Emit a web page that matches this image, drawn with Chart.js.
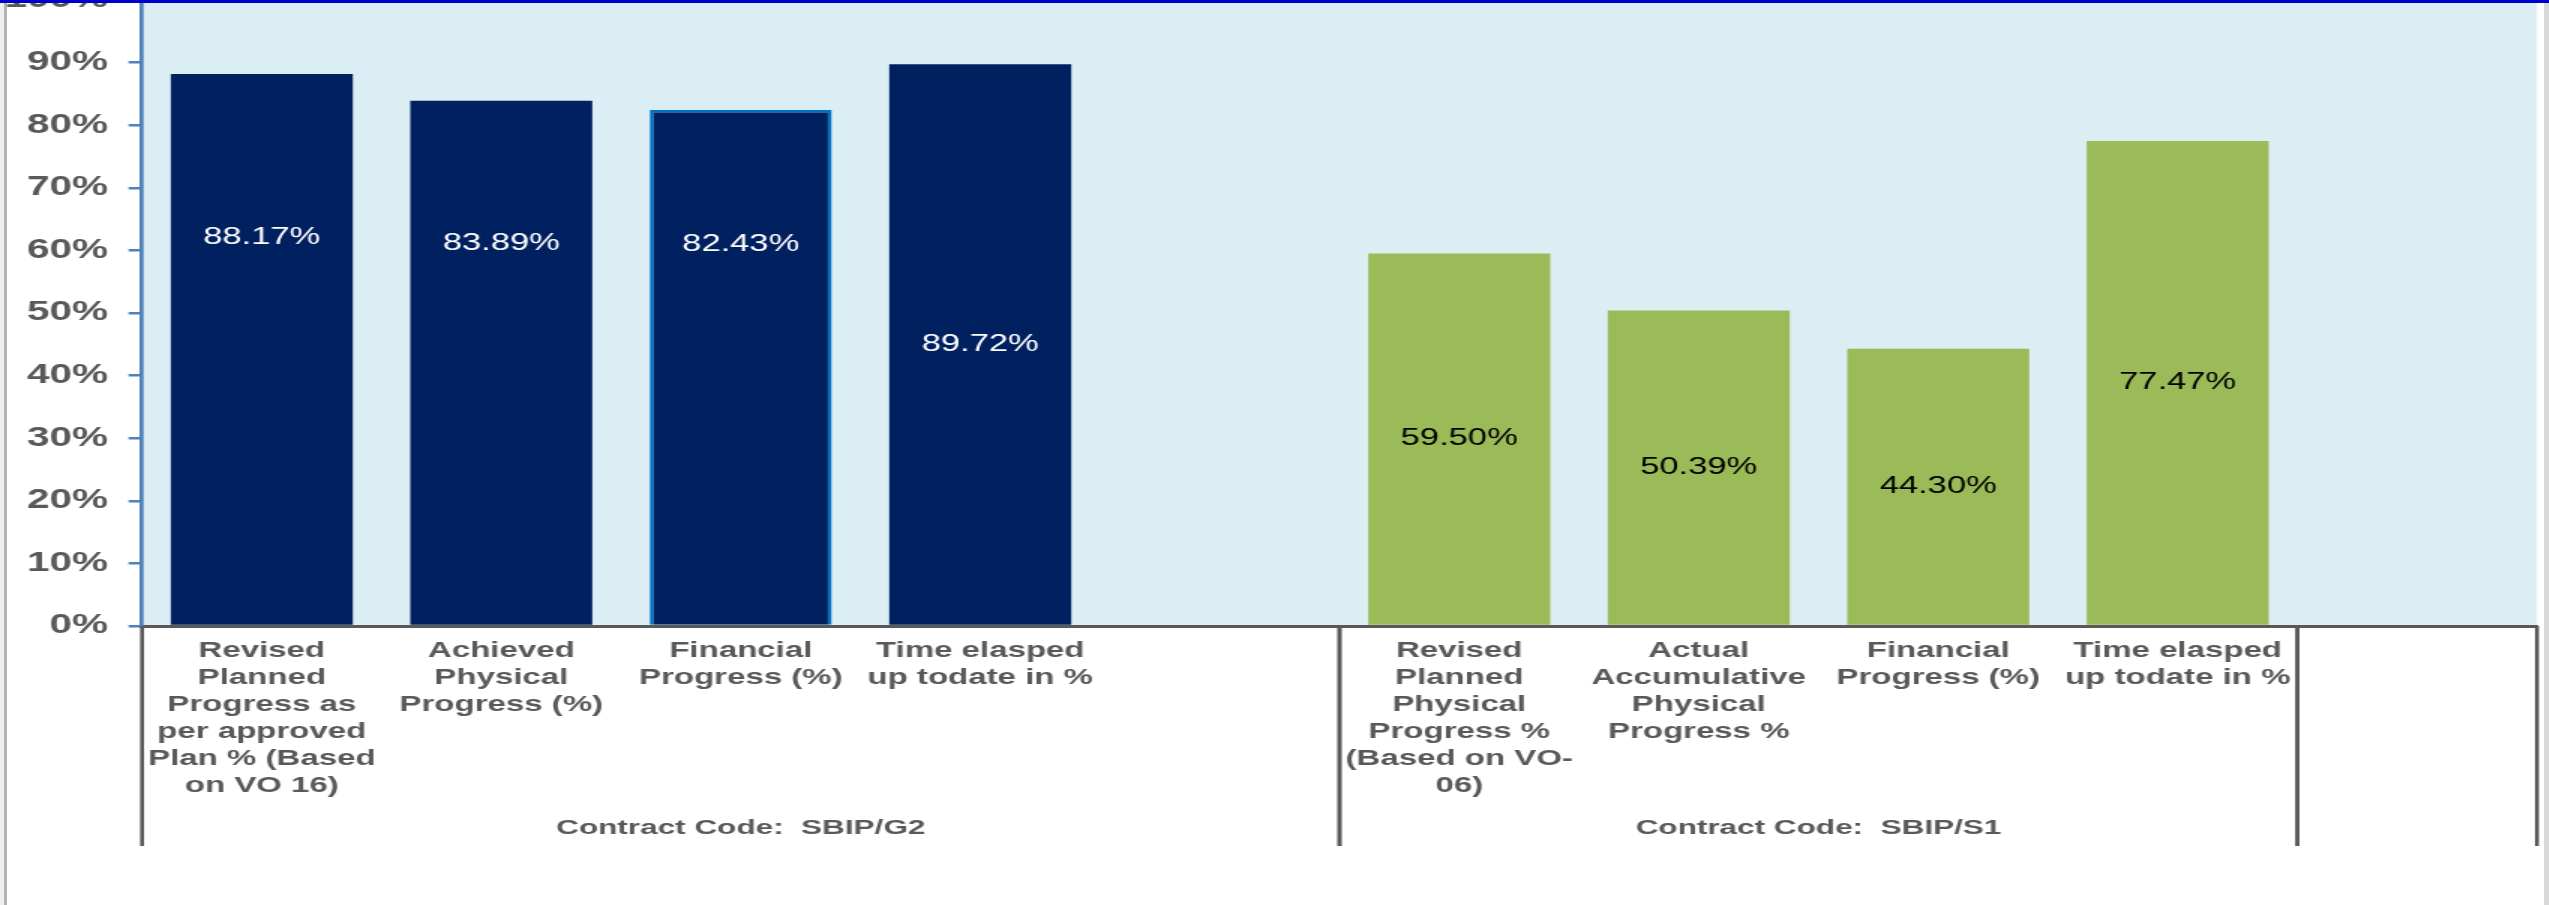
<!DOCTYPE html>
<html>
<head>
<meta charset="utf-8">
<script src="https://cdn.jsdelivr.net/npm/chart.js@4/dist/chart.umd.min.js"></script>
<style>
html, body { margin: 0; padding: 0; background: #fff; }
#frame { position: relative; width: 2549px; height: 905px; overflow: hidden; background: #fff; }
.edge { position: absolute; top: 0; height: 905px; }
#edgeLeft { left: 0; width: 4px; background: #efefef; }
#edgeLeft2 { left: 4px; width: 3px; background: #b4b4b4; }
#edgeRight { left: 2544px; width: 5px; background: #d9d9d9; }
#edgeTop { position: absolute; left: 0; top: 0; width: 2549px; height: 3px; background: #0000cc; z-index: 2; }
/* the source picture is stretched sideways, so the chart is drawn narrow and widened */
#wrap { position: absolute; left: 0; top: -30px; width: 1700px; height: 935px; transform: scaleX(1.5); transform-origin: 0 0; }
</style>
</head>
<body>
<div id="frame">
  <div class="edge" id="edgeLeft"></div>
  <div class="edge" id="edgeLeft2"></div>
  <div class="edge" id="edgeRight"></div>
  <div id="wrap"><canvas id="progress-chart"></canvas></div>
  <div id="edgeTop"></div>
</div>
<script>
// Data
const categories = [
    ['Revised', 'Planned', 'Progress as', 'per approved', 'Plan % (Based', 'on VO 16)'],
    ['Achieved', 'Physical', 'Progress (%)'],
    ['Financial', 'Progress (%)'],
    ['Time elasped', 'up todate in %'],
    '',
    ['Revised', 'Planned', 'Physical', 'Progress %', '(Based on VO-', '06)'],
    ['Actual', 'Accumulative', 'Physical', 'Progress %'],
    ['Financial', 'Progress (%)'],
    ['Time elasped', 'up todate in %'],
    ''
];
const g2Values = [88.17, 83.89, 82.43, 89.72];
const s1Values = [59.50, 50.39, 44.30, 77.47];
const groupLabels = ['Contract Code:  SBIP/G2', 'Contract Code:  SBIP/S1', ''];
const groupSpans = [[0, 4], [5, 8], [9, 9]];
// where the value labels sit, in axis %; null = middle of the bar
const labelAt = [62, 61.1, 60.9, null, null, null, null, null, null, null];

const values = [...g2Values, null, ...s1Values, null];
const barColors = values.map((v, i) => i < 5 ? '#002060' : '#9BBB59');
const borderWidths = values.map((v, i) => i === 2 ? 2.6 : 0);
const FONT = '"Liberation Sans", Arial, sans-serif';

// Plot area fill
const plotBg = {
    id: 'plotBg',
    beforeDraw(chart) {
        const { ctx, chartArea: a } = chart;
        ctx.save();
        ctx.fillStyle = '#DAEEF3';
        ctx.fillRect(a.left, a.top, a.right - a.left, a.bottom - a.top);
        ctx.restore();
    }
};

// Value labels on the bars
const barLabels = {
    id: 'barLabels',
    afterDatasetsDraw(chart) {
        const ctx = chart.ctx;
        const yScale = chart.scales.y;
        ctx.save();
        ctx.font = '23px ' + FONT;
        ctx.textAlign = 'center';
        ctx.textBaseline = 'middle';
        chart.getDatasetMeta(0).data.forEach((bar, i) => {
            const v = values[i];
            if (v == null) return;
            const y = labelAt[i] != null ? yScale.getPixelForValue(labelAt[i]) : (bar.y + bar.base) / 2;
            ctx.fillStyle = i < 5 ? '#ffffff' : '#000000';
            ctx.fillText(v.toFixed(2) + '%', bar.x, y);
        });
        ctx.restore();
    }
};

// Second level of the category axis
const groupAxis = {
    id: 'groupAxis',
    afterDraw(chart) {
        const ctx = chart.ctx;
        const x = chart.scales.x;
        const half = (x.getPixelForValue(1) - x.getPixelForValue(0)) / 2;
        const top = chart.chartArea.bottom;
        ctx.save();
        ctx.strokeStyle = '#595959';
        ctx.lineWidth = 2.6;
        ctx.fillStyle = '#595959';
        ctx.font = 'bold 21px ' + FONT;
        ctx.textAlign = 'center';
        ctx.textBaseline = 'middle';
        groupSpans.forEach(([a, b], i) => {
            const l = x.getPixelForValue(a) - half;
            const r = x.getPixelForValue(b) + half;
            [l, r].forEach(px => {
                ctx.beginPath();
                ctx.moveTo(px, top);
                ctx.lineTo(px, top + 220);
                ctx.stroke();
            });
            ctx.fillText(groupLabels[i], (l + r) / 2, top + 202);
        });
        ctx.restore();
    }
};

const ctx = document.getElementById('progress-chart').getContext('2d');
const progressChart = new Chart(ctx, {
    type: 'bar',
    data: {
        labels: categories,
        datasets: [{
            data: values,
            backgroundColor: barColors,
            borderColor: '#0070C0',
            borderWidth: borderWidths,
            categoryPercentage: 1,
            barPercentage: 0.76
        }]
    },
    options: {
        responsive: true,
        maintainAspectRatio: false,
        animation: false,
        layout: { padding: { top: 30, right: 8.7, bottom: 0, left: 0 } },
        plugins: {
            legend: { display: false },
            tooltip: { enabled: false }
        },
        scales: {
            x: {
                grid: { display: false, drawTicks: false },
                border: { color: '#595959', width: 3 },
                ticks: {
                    autoSkip: false,
                    maxRotation: 0,
                    minRotation: 0,
                    padding: 11,
                    color: '#595959',
                    font: { family: FONT, size: 22, weight: 'bold', lineHeight: 1.227 }
                },
                afterFit(scale) { scale.height = 279; }
            },
            y: {
                min: 0,
                max: 100,
                grid: { drawOnChartArea: false, drawTicks: true, tickLength: 9, color: '#4F81BD', lineWidth: 2.5 },
                border: { color: '#4F81BD', width: 2.7 },
                ticks: {
                    stepSize: 10,
                    padding: 13.7,
                    color: '#595959',
                    font: { family: FONT, size: 27, weight: 'bold' },
                    callback: v => v + '%'
                },
                afterFit(scale) { scale.width = 94.7; }
            }
        }
    },
    plugins: [plotBg, barLabels, groupAxis]
});
</script>
</body>
</html>
